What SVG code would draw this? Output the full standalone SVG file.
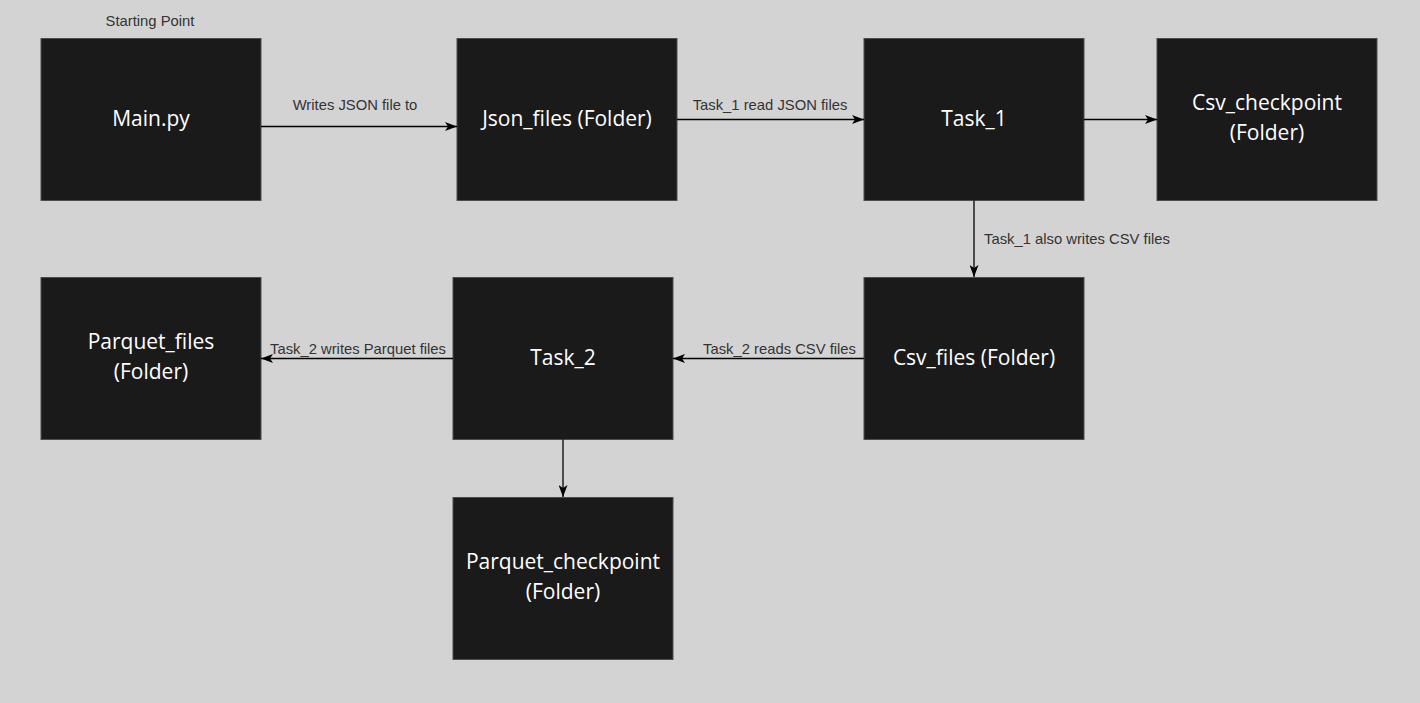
<svg xmlns="http://www.w3.org/2000/svg" width="1420" height="703" viewBox="0 0 1420 703">
<style>
.n rect{fill:#1a1a1a;stroke:#4d4d4d;stroke-width:1}
.n text{fill:#ffffff;font-family:"Open Sans","Noto Sans",sans-serif;font-size:21px;text-anchor:middle;dominant-baseline:central}
.e line{stroke:#000;stroke-width:1.3;fill:none}
.l{fill:#333333;font-family:"Liberation Sans",Arial,sans-serif;font-size:14.8px;dominant-baseline:central}
</style>
<defs>
<marker id="a" viewBox="0 0 12 9" refX="12" refY="4.5" markerWidth="12" markerHeight="9" markerUnits="userSpaceOnUse" orient="auto">
<path d="M0,0 L12,4.5 L0,9 L3,4.5 Z" fill="#000"/>
</marker>
</defs>
<rect width="1420" height="703" fill="#d3d3d3"/>
<g id="n-main" class="n"><rect x="41" y="38.5" width="220" height="162"/><text x="151" y="117.5">Main.py</text></g>
<g id="n-json" class="n"><rect x="457" y="38.5" width="220" height="162"/><text x="567" y="117.5">Json_files (Folder)</text></g>
<g id="n-task1" class="n"><rect x="864" y="38.5" width="220" height="162"/><text x="974" y="117.5">Task_1</text></g>
<g id="n-csvcp" class="n"><rect x="1157" y="38.5" width="220" height="162"/><text x="1267" y="101.5">Csv_checkpoint</text><text x="1267" y="131.5">(Folder)</text></g>
<g id="n-parq" class="n"><rect x="41" y="277.5" width="220" height="162"/><text x="151" y="340.5">Parquet_files</text><text x="151" y="370.5">(Folder)</text></g>
<g id="n-task2" class="n"><rect x="453" y="277.5" width="220" height="162"/><text x="563" y="356.5">Task_2</text></g>
<g id="n-csv" class="n"><rect x="864" y="277.5" width="220" height="162"/><text x="974" y="356.5">Csv_files (Folder)</text></g>
<g id="n-parqcp" class="n"><rect x="453" y="497.5" width="220" height="162"/><text x="563" y="560.5">Parquet_checkpoint</text><text x="563" y="590.5">(Folder)</text></g>
<g id="connectors" class="e">
<line x1="261" y1="126.5" x2="457" y2="126.5" marker-end="url(#a)"/>
<line x1="677" y1="119.5" x2="864" y2="119.5" marker-end="url(#a)"/>
<line x1="1084" y1="119.5" x2="1157" y2="119.5" marker-end="url(#a)"/>
<line x1="974" y1="200.5" x2="974" y2="277" marker-end="url(#a)"/>
<line x1="453" y1="358.5" x2="261" y2="358.5" marker-end="url(#a)"/>
<line x1="864" y1="358.5" x2="673" y2="358.5" marker-end="url(#a)"/>
<line x1="563" y1="439.5" x2="563" y2="497" marker-end="url(#a)"/>
</g>
<g id="labels">
<text class="l" x="150" y="21" text-anchor="middle">Starting Point</text>
<text class="l" x="355" y="105" text-anchor="middle">Writes JSON file to</text>
<text class="l" x="770" y="105" text-anchor="middle">Task_1 read JSON files</text>
<text class="l" x="984" y="238.5">Task_1 also writes CSV files</text>
<text class="l" x="358" y="348.5" text-anchor="middle">Task_2 writes Parquet files</text>
<text class="l" x="779.5" y="348.5" text-anchor="middle">Task_2 reads CSV files</text>
</g>
</svg>
